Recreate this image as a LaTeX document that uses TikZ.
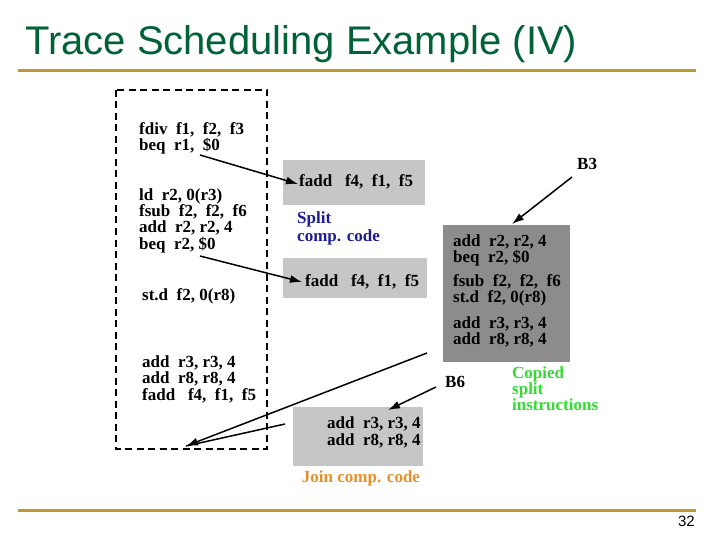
\documentclass[tikz,border=0pt]{standalone}
\usepackage{fontspec}
\setmainfont{Liberation Serif}
\newfontfamily\titlefont{Liberation Sans}
\usetikzlibrary{arrows.meta}
\definecolor{titlegreen}{RGB}{0,98,55}
\definecolor{rulegold}{RGB}{190,152,50}
\definecolor{splitblue}{RGB}{28,28,150}
\definecolor{copygreen}{RGB}{50,220,50}
\definecolor{joinorange}{RGB}{230,145,40}
\definecolor{lightfill}{RGB}{198,198,198}
\definecolor{darkfill}{RGB}{140,140,140}
\begin{document}
\begin{tikzpicture}[x=1pt,y=-1pt,
  code/.style={anchor=base west, inner sep=0pt, font=\fontsize{17}{17}\selectfont\bfseries},
  lbox/.style={fill=lightfill, inner sep=0pt},
  dbox/.style={fill=darkfill, inner sep=0pt},
  arr/.style={line width=1.5pt, -{Latex[length=12pt,width=8pt]}},
  plain/.style={line width=1.5pt},
  trace/.style={line width=1.4pt, dash pattern=on 7pt off 4.5pt},
]
\useasboundingbox (0,0) rectangle (720,540);
\fill[white] (0,0) rectangle (720,540);

% title and rules
\node[anchor=base west, inner sep=0pt, text=titlegreen,
      font=\titlefont\fontsize{40}{40}\selectfont] (title) at (25,55) {Trace Scheduling Example (IV)};
\draw[rulegold, line width=3pt] (18,70.5) -- (696,70.5);
\draw[rulegold, line width=3pt] (18,510.5) -- (696,510.5);
\node[anchor=base east, inner sep=0pt, font=\titlefont\fontsize{15}{15}\selectfont] (pnum) at (695,526) {32};

% dashed trace box
\draw[trace] (116,90) rectangle (267,449);
\node[code] (l1) at (139,135) {fdiv\ \ f1,\ \ f2,\ \ f3};
\node[code] (l2) at (139,151) {beq\ \ r1,\ \ \$0};
\node[code] (l3) at (139,201) {ld\ \ r2, 0(r3)};
\node[code] (l4) at (139,217) {fsub\ \ f2,\ \ f2,\ \ f6};
\node[code] (l5) at (139,233) {add\ \ r2, r2, 4};
\node[code] (l6) at (139,249) {beq\ \ r2, \$0};
\node[code] (l7) at (142,300) {st.d\ \ f2, 0(r8)};
\node[code] (l8) at (142,367) {add\ \ r3, r3, 4};
\node[code] (l9) at (142,383) {add\ \ r8, r8, 4};
\node[code] (l10) at (142,400) {fadd\ \ \ f4,\ \ f1,\ \ f5};

% split compensation boxes
\node[lbox, minimum width=142pt, minimum height=45pt] (box1) at (354,182.5) {};
\node[code] (f1) at (299,187) {fadd\ \ \ f4,\ \ f1,\ \ f5};
\node[code, text=splitblue] (split1) at (297,224) {Split};
\node[code, text=splitblue] (split2) at (297,241) {comp. code};
\node[lbox, minimum width=144pt, minimum height=40pt] (box2) at (355,278) {};
\node[code] (f2) at (305,286) {fadd\ \ \ f4,\ \ f1,\ \ f5};

% copied instructions box
\node[dbox, minimum width=127pt, minimum height=137pt] (box3) at (506.5,293.5) {};
\node[code] (c1) at (453,246) {add\ \ r2, r2, 4};
\node[code] (c2) at (453,262) {beq\ \ r2, \$0};
\node[code] (c3) at (453,286) {fsub\ \ f2,\ \ f2,\ \ f6};
\node[code] (c4) at (453,302) {st.d\ \ f2, 0(r8)};
\node[code] (c5) at (453,328) {add\ \ r3, r3, 4};
\node[code] (c6) at (453,344) {add\ \ r8, r8, 4};
\node[code] (b3) at (577,170) {B3};
\node[code] (b6) at (445,387) {B6};
\node[code, text=copygreen] (cp1) at (512,378) {Copied};
\node[code, text=copygreen] (cp2) at (512,394) {split};
\node[code, text=copygreen] (cp3) at (512,410) {instructions};

% join compensation box
\node[lbox, minimum width=130pt, minimum height=59pt] (box4) at (358,436.5) {};
\node[code] (j1) at (327,428.5) {add\ \ r3, r3, 4};
\node[code] (j2) at (327,445) {add\ \ r8, r8, 4};
\node[code, anchor=base, text=joinorange] (join) at (361,482) {Join comp. code};

% connectors
\coordinate (s1) at (200,155);
\coordinate (t1) at (298,184);
\coordinate (s2) at (200,256);
\coordinate (t2) at (302,282);
\coordinate (sb3) at (572,177);
\coordinate (tb3) at (512,224);
\coordinate (sb6) at (436,387);
\coordinate (tb6) at (388,410);
\coordinate (sl) at (427,353);
\coordinate (ss) at (285,424);
\coordinate (tj) at (186,446);
\draw[arr] (s1) -- (t1);
\draw[arr] (s2) -- (t2);
\draw[arr] (sb3) -- (tb3);
\draw[arr] (sb6) -- (tb6);
\draw[plain] (ss) -- (tj);
\draw[arr] (sl) -- (tj);
\end{tikzpicture}
\end{document}
